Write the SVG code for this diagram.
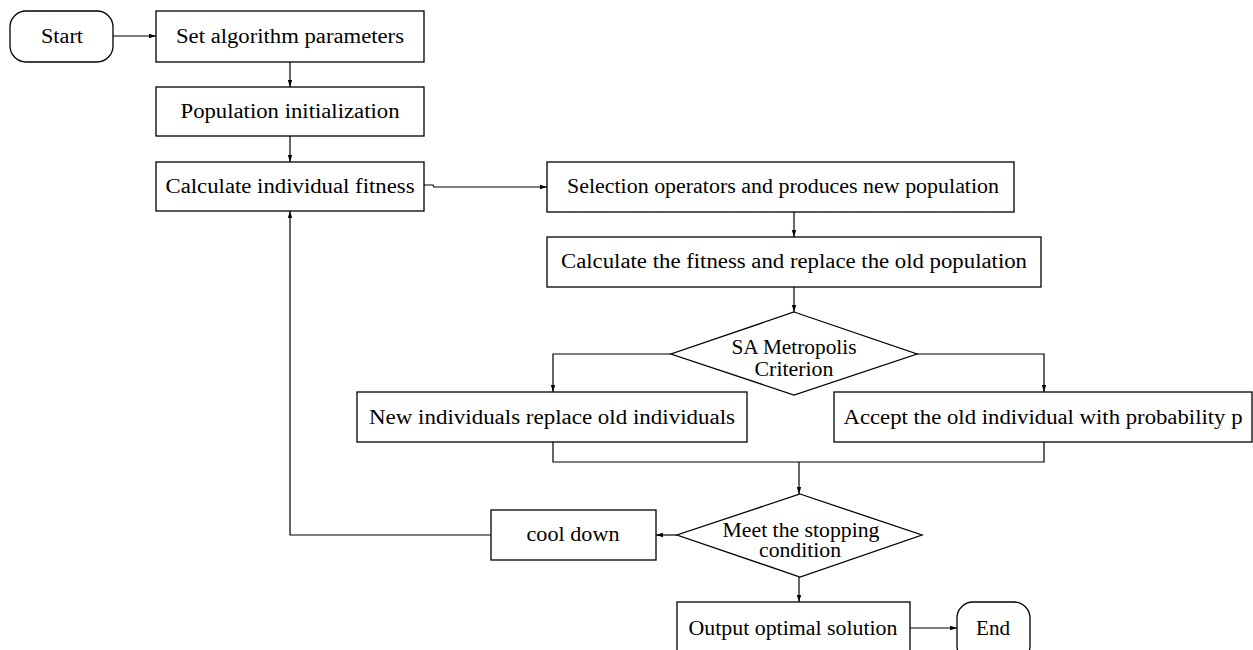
<svg xmlns="http://www.w3.org/2000/svg" width="1253" height="650" viewBox="0 0 1253 650">
  <defs>
    <marker id="arrow" markerWidth="7" markerHeight="6" refX="7" refY="3" orient="auto" markerUnits="userSpaceOnUse">
      <path d="M0,0.8 L7,3 L0,5.2 Z" fill="#000"/>
    </marker>
    <style>
      .box { fill: #fff; stroke: #000; stroke-width: 1.3; }
      .lbl { font-family: "Liberation Serif", "DejaVu Serif", serif; font-size: 20px; fill: #000; text-anchor: middle; }
      .conn { fill: none; stroke: #000; stroke-width: 1.2; }
    </style>
  </defs>
  <rect width="1253" height="650" fill="#fff"/>

  <!-- connectors -->
  <g id="connectors" class="conn">
    <path d="M113,36 H156" marker-end="url(#arrow)"/>
    <path d="M290,62 V87" marker-end="url(#arrow)"/>
    <path d="M290,136 V162" marker-end="url(#arrow)"/>
    <path d="M424,185 H433 L434,187 H547" marker-end="url(#arrow)"/>
    <path d="M794,212 V237" marker-end="url(#arrow)"/>
    <path d="M794,287 V312" marker-end="url(#arrow)"/>
    <path d="M671,354 H553 V392" marker-end="url(#arrow)"/>
    <path d="M917,354 H1044 V392" marker-end="url(#arrow)"/>
    <path d="M553,442 V462 H1044 V442"/>
    <path d="M799,462 V494" marker-end="url(#arrow)"/>
    <path d="M677,535 H656" marker-end="url(#arrow)"/>
    <path d="M491,535 H290 V211" marker-end="url(#arrow)"/>
    <path d="M799,577 V602" marker-end="url(#arrow)"/>
    <path d="M910,628 H957" marker-end="url(#arrow)"/>
  </g>

  <g id="start">
    <rect class="box" x="10" y="11" width="103" height="51" rx="16"/>
    <text class="lbl" x="62" y="43" textLength="42" lengthAdjust="spacingAndGlyphs">Start</text>
  </g>
  <g id="set-params">
    <rect class="box" x="156" y="11" width="268" height="51"/>
    <text class="lbl" x="290" y="43" textLength="228" lengthAdjust="spacingAndGlyphs">Set algorithm parameters</text>
  </g>
  <g id="pop-init">
    <rect class="box" x="156" y="87" width="268" height="49"/>
    <text class="lbl" x="290" y="118" textLength="219" lengthAdjust="spacingAndGlyphs">Population initialization</text>
  </g>
  <g id="calc-fitness">
    <rect class="box" x="156" y="162" width="268" height="49"/>
    <text class="lbl" x="290" y="193" textLength="249" lengthAdjust="spacingAndGlyphs">Calculate individual fitness</text>
  </g>
  <g id="selection">
    <rect class="box" x="547" y="162" width="467" height="50"/>
    <text class="lbl" x="783" y="193" textLength="432" lengthAdjust="spacingAndGlyphs">Selection operators and produces new population</text>
  </g>
  <g id="replace-pop">
    <rect class="box" x="547" y="237" width="494" height="50"/>
    <text class="lbl" x="794" y="268" textLength="466" lengthAdjust="spacingAndGlyphs">Calculate the fitness and replace the old population</text>
  </g>
  <g id="metropolis">
    <polygon class="box" points="794,312 917,354 794,395 671,354"/>
    <text class="lbl" x="794" y="354" textLength="125" lengthAdjust="spacingAndGlyphs">SA Metropolis</text>
    <text class="lbl" x="794" y="376" textLength="79" lengthAdjust="spacingAndGlyphs">Criterion</text>
  </g>
  <g id="new-individuals">
    <rect class="box" x="357" y="392" width="390" height="50"/>
    <text class="lbl" x="552" y="424" textLength="366" lengthAdjust="spacingAndGlyphs">New individuals replace old individuals</text>
  </g>
  <g id="accept-old">
    <rect class="box" x="834" y="392" width="418" height="50"/>
    <text class="lbl" x="1043" y="424" textLength="399" lengthAdjust="spacingAndGlyphs">Accept the old individual with probability p</text>
  </g>
  <g id="stopping">
    <polygon class="box" points="800,494 922,535 800,577 677,535"/>
    <text class="lbl" x="801" y="537" textLength="157" lengthAdjust="spacingAndGlyphs">Meet the stopping</text>
    <text class="lbl" x="800" y="557" textLength="82" lengthAdjust="spacingAndGlyphs">condition</text>
  </g>
  <g id="cool-down">
    <rect class="box" x="491" y="510" width="165" height="50"/>
    <text class="lbl" x="573" y="541" textLength="93" lengthAdjust="spacingAndGlyphs">cool down</text>
  </g>
  <g id="output">
    <rect class="box" x="677" y="602" width="233" height="60"/>
    <text class="lbl" x="793" y="635" textLength="209" lengthAdjust="spacingAndGlyphs">Output optimal solution</text>
  </g>
  <g id="end">
    <rect class="box" x="957" y="602" width="73" height="60" rx="16"/>
    <text class="lbl" x="993" y="635" textLength="34" lengthAdjust="spacingAndGlyphs">End</text>
  </g>
</svg>
